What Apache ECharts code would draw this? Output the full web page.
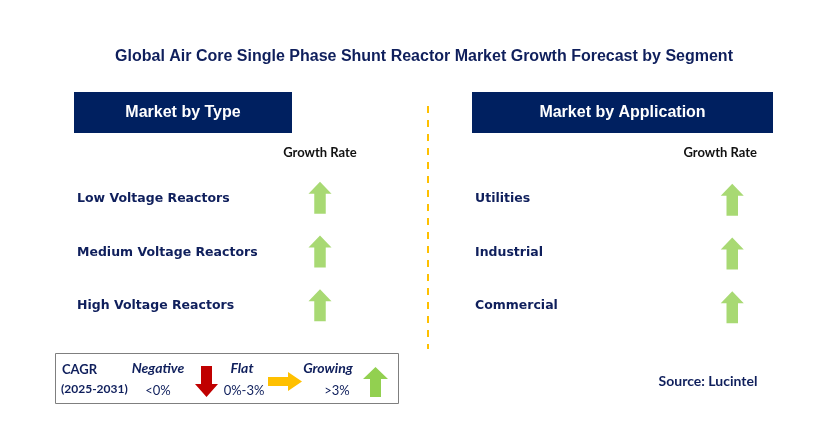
<!DOCTYPE html>
<html><head><meta charset="utf-8">
<script src="https://cdn.jsdelivr.net/npm/echarts@6/dist/echarts.min.js"></script>
<style>html,body{margin:0;padding:0;background:#fff}#c{width:837px;height:430px}</style>
</head><body><div id="c"></div>
<script>
var titleText = 'Global Air Core Single Phase Shunt Reactor Market Growth Forecast by Segment';
var panelTitles = ['Market by Type', 'Market by Application'];
var columnHeader = 'Growth Rate';
var typeSegments = ['Low Voltage Reactors', 'Medium Voltage Reactors', 'High Voltage Reactors'];
var typeGrowth = ['Growing', 'Growing', 'Growing'];
var appSegments = ['Utilities', 'Industrial', 'Commercial'];
var appGrowth = ['Growing', 'Growing', 'Growing'];
var legendItems = [['Negative', '<0%'], ['Flat', '0%-3%'], ['Growing', '>3%']];
var cagrLabel = ['CAGR', '(2025-2031)'];
var sourceText = 'Source: Lucintel';

var NAVY = '#0f1f5c';
var arrowPath = {
  Growing: 'path://M12,0 L24,12 L18,12 L18,32 L6,32 L6,12 L0,12 Z',
  Negative: 'path://M6,0 L18,0 L18,20 L24,20 L12,32 L0,20 L6,20 Z',
  Flat: 'path://M0,6 L20,6 L20,0 L32,12 L20,24 L20,18 L0,18 Z'
};
var arrowColor = { Growing: '#92D050', Negative: '#C00000', Flat: '#FFC000' };

function makeData(segs, growth) {
  return segs.map(function (s, i) {
    return { value: [columnHeader, s], symbol: arrowPath[growth[i]], itemStyle: { color: arrowColor[growth[i]] } };
  });
}

var labelFont = { fontFamily: '"DejaVu Sans", Verdana', fontWeight: 'bold', fontSize: 12.5, color: NAVY };

function axesFor(idx, segs) {
  return {
    x: { gridIndex: idx, type: 'category', data: ['', columnHeader], position: 'top',
      axisLine: { show: false }, axisTick: { show: false }, splitLine: { show: false },
      axisLabel: { margin: 13, fontFamily: 'Lato', fontWeight: 'bold', fontSize: 13, color: '#111' } },
    y: { gridIndex: idx, type: 'category', data: segs, inverse: true,
      axisLine: { show: false }, axisTick: { show: false }, splitLine: { show: false },
      axisLabel: Object.assign({ align: 'left', margin: 0 }, labelFont) }
  };
}
var a0 = axesFor(0, typeSegments), a1 = axesFor(1, appSegments);

var HFONT = 'bold 16px "Liberation Sans", Arial';
var g = [];
g.push({ type: 'text', x: 424, y: 57, style: { text: titleText, font: HFONT, fill: NAVY, align: 'center', verticalAlign: 'middle' } });
[[74, 218], [472, 301]].forEach(function (p, i) {
  g.push({ type: 'rect', shape: { x: p[0], y: 92, width: p[1], height: 41 }, style: { fill: '#002060' } });
  g.push({ type: 'text', x: p[0] + p[1] / 2, y: 112.5, style: { text: panelTitles[i], font: HFONT, fill: '#fff', align: 'center', verticalAlign: 'middle' } });
});
g.push({ type: 'line', shape: { x1: 428, y1: 106, x2: 428, y2: 349 }, style: { stroke: '#FFC000', lineWidth: 2, lineDash: [7, 7] } });
g.push({ type: 'rect', shape: { x: 55.5, y: 353.5, width: 343, height: 50 }, style: { fill: '#fff', stroke: '#7f7f7f', lineWidth: 1 } });
g.push({ type: 'text', x: 62, y: 370, style: { text: cagrLabel[0], font: 'bold 13px Lato', fill: NAVY, verticalAlign: 'middle' } });
g.push({ type: 'text', x: 61, y: 389, style: { text: cagrLabel[1], font: 'bold 12px Lato', fill: NAVY, verticalAlign: 'middle' } });
var legPos = [[158, 158], [242, 244], [328, 337]];
legendItems.forEach(function (it, i) {
  var lp = legPos[i];
  g.push({ type: 'text', x: lp[0], y: 368, style: { text: it[0], font: 'italic bold 14px Lato', fill: NAVY, align: 'center', verticalAlign: 'middle' } });
  g.push({ type: 'text', x: lp[1], y: 391, style: { text: it[1], font: '13px Lato', fill: NAVY, align: 'center', verticalAlign: 'middle' } });
});
g.push({ type: 'polygon', shape: { points: [[201,366],[212,366],[212,384],[218,384],[206.5,397],[195,384],[201,384]] }, style: { fill: '#C00000' } });
g.push({ type: 'polygon', shape: { points: [[268,377],[288,377],[288,372],[302,381.5],[288,391],[288,386],[268,386]] }, style: { fill: '#FFC000' } });
g.push({ type: 'polygon', shape: { points: [[375.5,367],[388,379],[381,379],[381,397],[370,397],[370,379],[363,379]] }, style: { fill: '#92D050' } });
g.push({ type: 'text', x: 708, y: 381, style: { text: sourceText, font: 'bold 14px Lato', fill: NAVY, align: 'center', verticalAlign: 'middle' } });

var option = {
  backgroundColor: '#fff',
  animation: false,
  grid: [
    { left: 77, top: 172, width: 324, height: 161 },
    { left: 475, top: 172, width: 327, height: 161 }
  ],
  xAxis: [a0.x, a1.x],
  yAxis: [a0.y, a1.y],
  series: [
    { type: 'scatter', xAxisIndex: 0, yAxisIndex: 0, symbolSize: [23, 32], symbolOffset: [0, -1], data: makeData(typeSegments, typeGrowth) },
    { type: 'scatter', xAxisIndex: 1, yAxisIndex: 1, symbolSize: [23, 32], symbolOffset: [12, 1], data: makeData(appSegments, appGrowth) }
  ],
  graphic: g
};
var chart = echarts.init(document.getElementById('c'));
chart.setOption(option);
</script></body></html>
